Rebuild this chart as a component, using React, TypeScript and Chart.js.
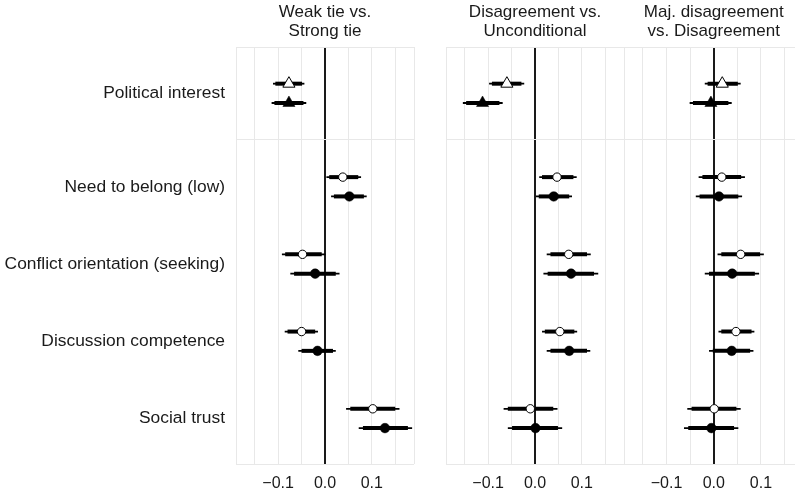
import React, { useEffect, useRef } from 'react';
import { Chart, registerables } from 'chart.js';

Chart.register(...registerables);

// ---------- data ----------
const rowLabels = [
  'Political interest',
  'Need to belong (low)',
  'Conflict orientation (seeking)',
  'Discussion competence',
  'Social trust',
];
// category coordinate of each row on the vertical scale (top row separated)
const rowPositions = [4.8, 3.59, 2.59, 1.59, 0.59];
const separatorPosition = 4.2;
const yMin = 0;
const yMax = 5.4;
const markerOffset = 0.125;

const panelTitles = [
  ['Weak tie vs.', 'Strong tie'],
  ['Disagreement vs.', 'Unconditional'],
  ['Maj. disagreement', 'vs. Disagreement'],
];

const xMin = -0.19;
const xMax = 0.19;
const xGridValues = [-0.15, -0.1, -0.05, 0, 0.05, 0.1, 0.15];
const xLabelValues = [-0.1, 0, 0.1];

// Panel 1: Weak tie vs. Strong tie
const p1OpenEst = [-0.077, 0.038, -0.048, -0.05, 0.102];
const p1OpenLo95 = [-0.111, 0.003, -0.092, -0.086, 0.045];
const p1OpenHi95 = [-0.044, 0.077, 0.001, -0.015, 0.159];
const p1OpenLo90 = [-0.106, 0.009, -0.085, -0.08, 0.054];
const p1OpenHi90 = [-0.049, 0.071, -0.007, -0.021, 0.15];
const p1FillEst = [-0.077, 0.052, -0.021, -0.016, 0.128];
const p1FillLo95 = [-0.114, 0.013, -0.074, -0.057, 0.072];
const p1FillHi95 = [-0.04, 0.089, 0.031, 0.023, 0.186];
const p1FillLo90 = [-0.108, 0.019, -0.066, -0.05, 0.081];
const p1FillHi90 = [-0.046, 0.083, 0.023, 0.017, 0.177];

// Panel 2: Disagreement vs. Unconditional
const p2OpenEst = [-0.06, 0.047, 0.072, 0.053, -0.01];
const p2OpenLo95 = [-0.098, 0.009, 0.025, 0.015, -0.067];
const p2OpenHi95 = [-0.023, 0.089, 0.119, 0.09, 0.048];
const p2OpenLo90 = [-0.092, 0.015, 0.033, 0.021, -0.058];
const p2OpenHi90 = [-0.029, 0.082, 0.111, 0.084, 0.039];
const p2FillEst = [-0.112, 0.04, 0.077, 0.073, 0.001];
const p2FillLo95 = [-0.154, 0.002, 0.018, 0.025, -0.058];
const p2FillHi95 = [-0.069, 0.079, 0.135, 0.118, 0.058];
const p2FillLo90 = [-0.147, 0.008, 0.027, 0.033, -0.049];
const p2FillHi90 = [-0.076, 0.073, 0.126, 0.111, 0.049];

// Panel 3: Maj. disagreement vs. Disagreement
const p3OpenEst = [0.018, 0.017, 0.057, 0.047, 0.001];
const p3OpenLo95 = [-0.019, -0.032, 0.008, 0.01, -0.056];
const p3OpenHi95 = [0.057, 0.066, 0.106, 0.086, 0.057];
const p3OpenLo90 = [-0.013, -0.024, 0.016, 0.016, -0.047];
const p3OpenHi90 = [0.051, 0.058, 0.098, 0.08, 0.048];
const p3FillEst = [-0.006, 0.011, 0.039, 0.038, -0.005];
const p3FillLo95 = [-0.051, -0.038, -0.019, -0.01, -0.063];
const p3FillHi95 = [0.038, 0.06, 0.096, 0.084, 0.052];
const p3FillLo90 = [-0.044, -0.03, -0.01, -0.002, -0.054];
const p3FillHi90 = [0.031, 0.052, 0.087, 0.077, 0.043];

type Series = { est: number[]; lo95: number[]; hi95: number[]; lo90: number[]; hi90: number[] };
type Panel = { title: string[]; open: Series; fill: Series };

const panels: Panel[] = [
  {
    title: panelTitles[0],
    open: { est: p1OpenEst, lo95: p1OpenLo95, hi95: p1OpenHi95, lo90: p1OpenLo90, hi90: p1OpenHi90 },
    fill: { est: p1FillEst, lo95: p1FillLo95, hi95: p1FillHi95, lo90: p1FillLo90, hi90: p1FillHi90 },
  },
  {
    title: panelTitles[1],
    open: { est: p2OpenEst, lo95: p2OpenLo95, hi95: p2OpenHi95, lo90: p2OpenLo90, hi90: p2OpenHi90 },
    fill: { est: p2FillEst, lo95: p2FillLo95, hi95: p2FillHi95, lo90: p2FillLo90, hi90: p2FillHi90 },
  },
  {
    title: panelTitles[2],
    open: { est: p3OpenEst, lo95: p3OpenLo95, hi95: p3OpenHi95, lo90: p3OpenLo90, hi90: p3OpenHi90 },
    fill: { est: p3FillEst, lo95: p3FillLo95, hi95: p3FillHi95, lo90: p3FillLo90, hi90: p3FillHi90 },
  },
];

// ---------- layout ----------
const CANVAS_W = 840;
const CANVAS_H = 491;
const FONT = "'Liberation Sans', Arial, Helvetica, sans-serif";
const INK = '#1a1a1a';
const GRID = '#e8e8e8';

const layouts = [
  { padLeft: 0, yWidth: 236, padRight: CANVAS_W - 414, showLabels: true },
  { padLeft: 446, yWidth: 0, padRight: CANVAS_W - 624, showLabels: false },
  { padLeft: 624, yWidth: 0, padRight: CANVAS_W - 803.5, showLabels: false },
];

function fmtTick(v: number) {
  if (Math.abs(v) < 1e-9) return '0.0';
  const s = Math.abs(v).toFixed(1);
  return v < 0 ? '\u2212' + s : s;
}

function buildDatasets(p: Panel) {
  const ds: any[] = [];
  const mk = (s: Series, off: number, filled: boolean) => ({
    type: 'scatter',
    data: s.est.map((x, i) => ({ x, y: rowPositions[i] + off })),
    pointStyle: (ctx: any) => (ctx.dataIndex === 0 ? 'triangle' : 'circle'),
    pointRadius: (ctx: any) => (ctx.dataIndex === 0 ? 7 : filled ? 4.8 : 4.2),
    pointBackgroundColor: filled ? '#000' : '#fff',
    pointBorderColor: '#000',
    pointBorderWidth: filled ? 0.5 : 1,
    showLine: false,
    order: 0,
  });
  ds.push(mk(p.open, markerOffset, false));
  ds.push(mk(p.fill, -markerOffset, true));
  const addLines = (s: Series, off: number) => {
    s.est.forEach((_, i) => {
      const y = rowPositions[i] + off;
      ds.push({
        type: 'scatter',
        data: [{ x: s.lo90[i], y }, { x: s.hi90[i], y }],
        showLine: true,
        borderColor: '#000',
        borderWidth: 4,
        borderCapStyle: 'butt',
        pointRadius: 0,
        order: 1,
      });
      ds.push({
        type: 'scatter',
        data: [{ x: s.lo95[i], y }, { x: s.hi95[i], y }],
        showLine: true,
        borderColor: '#000',
        borderWidth: 1.8,
        borderCapStyle: 'butt',
        pointRadius: 0,
        order: 2,
      });
    });
  };
  addLines(p.open, markerOffset);
  addLines(p.fill, -markerOffset);
  return ds;
}

function PanelChart({ index }: { index: number }) {
  const ref = useRef<HTMLCanvasElement | null>(null);
  useEffect(() => {
    if (!ref.current) return;
    const p = panels[index];
    const L = layouts[index];
    const chart = new Chart(ref.current, {
      type: 'scatter',
      data: { datasets: buildDatasets(p) as any },
      options: {
        responsive: false,
        animation: false,
        events: [],
        devicePixelRatio: 1,
        layout: { padding: { left: L.padLeft, right: L.padRight, top: 0, bottom: 0 } },
        plugins: {
          legend: { display: false },
          tooltip: { enabled: false },
          title: {
            display: true,
            fullSize: false,
            text: p.title,
            color: INK,
            font: { family: FONT, size: 17, weight: 'normal', lineHeight: 19 / 17 },
            padding: { top: 3, bottom: 6 },
          },
        },
        scales: {
          x: {
            type: 'linear',
            min: xMin,
            max: xMax,
            border: { display: false },
            afterBuildTicks: (scale: any) => {
              scale.ticks = [xMin, ...xGridValues, xMax].map((v) => ({ value: v }));
            },
            afterFit: (scale: any) => {
              scale.height = 27;
            },
            grid: {
              drawTicks: false,
              color: (ctx: any) => (Math.abs(ctx.tick?.value) < 1e-9 ? INK : GRID),
              lineWidth: (ctx: any) => (Math.abs(ctx.tick?.value) < 1e-9 ? 2 : 1),
            },
            ticks: {
              autoSkip: false,
              maxRotation: 0,
              padding: 10,
              color: INK,
              font: { family: FONT, size: 16 },
              callback: (v: any) => {
                const n = Number(v);
                return xLabelValues.some((t) => Math.abs(t - n) < 1e-9) ? fmtTick(n) : '';
              },
            },
          },
          y: {
            type: 'linear',
            min: yMin,
            max: yMax,
            border: { display: false },
            afterBuildTicks: (scale: any) => {
              scale.ticks = [yMin, ...rowPositions, separatorPosition, yMax]
                .sort((a, b) => a - b)
                .map((v) => ({ value: v }));
            },
            afterFit: (scale: any) => {
              scale.width = L.yWidth;
            },
            grid: {
              drawTicks: false,
              color: (ctx: any) => {
                const v = ctx.tick?.value;
                return v === yMin || v === yMax || v === separatorPosition ? GRID : 'rgba(0,0,0,0)';
              },
              lineWidth: 1,
            },
            ticks: {
              display: L.showLabels,
              autoSkip: false,
              padding: 11,
              color: INK,
              font: { family: FONT, size: 17.4 },
              callback: (v: any) => {
                const idx = rowPositions.indexOf(Number(v));
                return idx >= 0 ? rowLabels[idx] : '';
              },
            },
          },
        },
      } as any,
    });
    return () => chart.destroy();
  }, [index]);
  return (
    <div style={{ position: 'absolute', left: 0, top: 0, width: CANVAS_W, height: CANVAS_H }}>
      <canvas ref={ref} width={CANVAS_W} height={CANVAS_H} style={{ width: CANVAS_W, height: CANVAS_H, display: 'block' }} />
    </div>
  );
}

export default function App() {
  return (
    <div
      style={{
        position: 'fixed',
        left: 0,
        top: 0,
        width: 795,
        height: 491,
        overflow: 'hidden',
        background: '#fff',
      }}
    >
      <PanelChart index={0} />
      <PanelChart index={1} />
      <PanelChart index={2} />
    </div>
  );
}
